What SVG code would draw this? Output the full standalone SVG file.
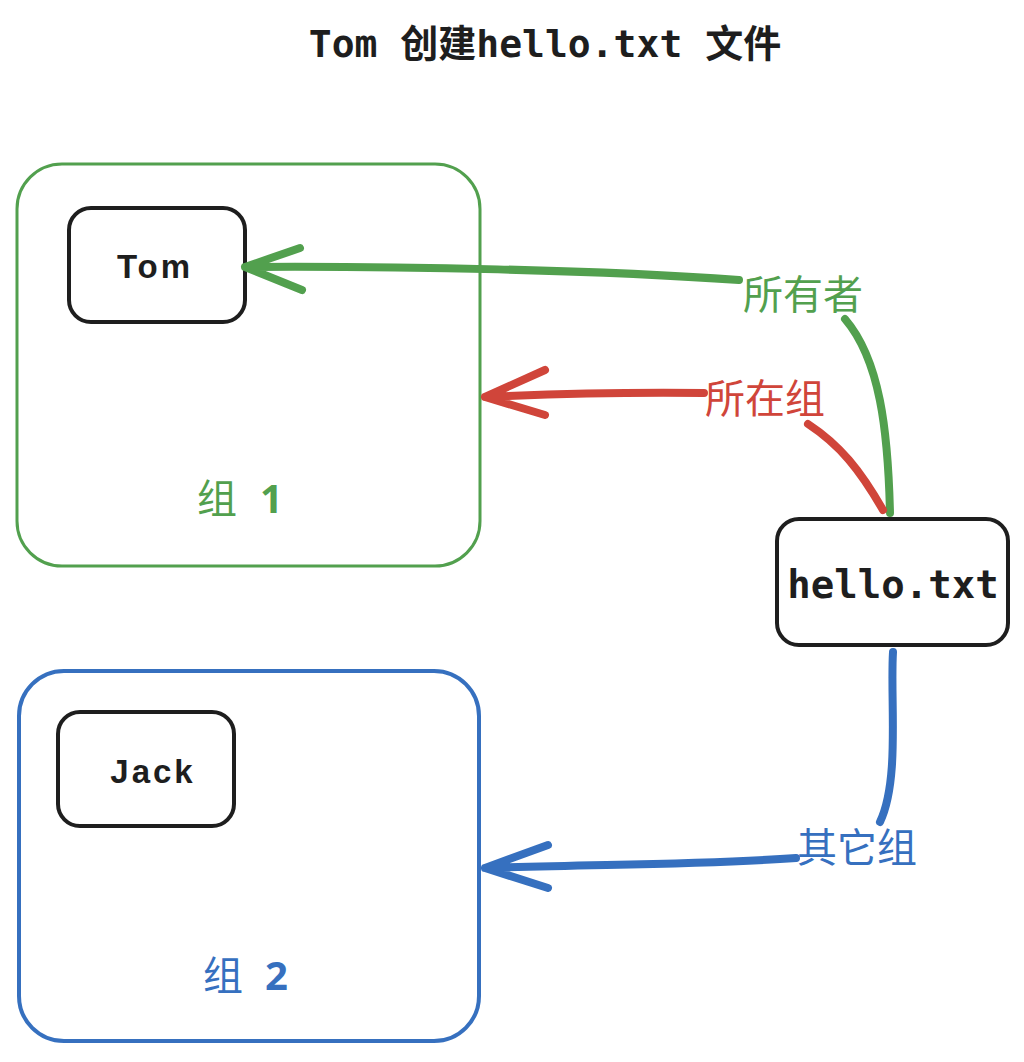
<svg xmlns="http://www.w3.org/2000/svg" width="1024" height="1062" viewBox="0 0 1024 1062">
<style>
.node{fill:#fff;stroke:#1e1e1e;stroke-width:4}
.hand{font-family:"Comic Sans MS","Liberation Sans","Noto Sans",sans-serif;font-size:33px;font-weight:bold;fill:#1e1e1e;text-anchor:middle;letter-spacing:3px}
.mono{font-family:"DejaVu Sans Mono","Noto Sans CJK SC",monospace;font-weight:bold;fill:#1e1e1e}
.cjk{font-family:"Noto Sans CJK SC","Noto Sans",sans-serif;font-size:40px}
.num{font-family:"Noto Sans",sans-serif;font-weight:bold}
.arr{fill:none;stroke-width:8;stroke-linecap:round;stroke-linejoin:round}
.g{stroke:#52a04e}.r{stroke:#d0453a}.b{stroke:#3670bf}
</style>
<rect width="1024" height="1062" fill="#fff"/>
<text class="mono" x="545" y="57" font-size="38" text-anchor="middle">Tom 创建hello.txt 文件</text>
<g id="group1">
<rect x="17" y="164" width="463" height="402" rx="45" fill="none" stroke="#52a04e" stroke-width="3"/>
<text class="cjk" x="197" y="513" fill="#52a04e">组<tspan class="num" x="260">1</tspan></text>
</g>
<g id="tom">
<rect class="node" x="69" y="208" width="176" height="114" rx="22"/>
<text class="hand" x="155" y="278">Tom</text>
</g>
<g id="group2">
<rect x="19" y="671" width="460" height="370" rx="45" fill="none" stroke="#3670bf" stroke-width="4"/>
<text class="cjk" x="203" y="990" fill="#3670bf">组<tspan class="num" x="265">2</tspan></text>
</g>
<g id="jack">
<rect class="node" x="58" y="712" width="176" height="114" rx="22"/>
<text class="hand" x="153" y="783">Jack</text>
</g>
<g id="hello">
<rect class="node" x="777" y="519" width="231" height="126" rx="22"/>
<text class="mono" x="893" y="598" font-size="39" text-anchor="middle">hello.txt</text>
</g>
<g id="connectors">
<path class="arr g" d="M890 513 C888 430 880 360 845 319"/>
<path class="arr g" d="M739 280 C600 270 400 266 245 267 M300 248 L245 267 L302 290"/>
<text class="cjk" x="803" y="309" fill="#52a04e" text-anchor="middle">所有者</text>
<path class="arr r" d="M883 510 C860 470 840 445 808 424"/>
<path class="arr r" d="M704 393 C620 392 550 394 485 397 M545 370 L485 397 L545 415"/>
<text class="cjk" x="765" y="413" fill="#d0453a" text-anchor="middle">所在组</text>
<path class="arr b" d="M893 652 C890 700 900 780 880 822"/>
<path class="arr b" d="M796 858 C700 865 600 864 485 868 M548 845 L485 868 L548 888"/>
<text class="cjk" x="857" y="862" fill="#3670bf" text-anchor="middle">其它组</text>
</g>
</svg>
